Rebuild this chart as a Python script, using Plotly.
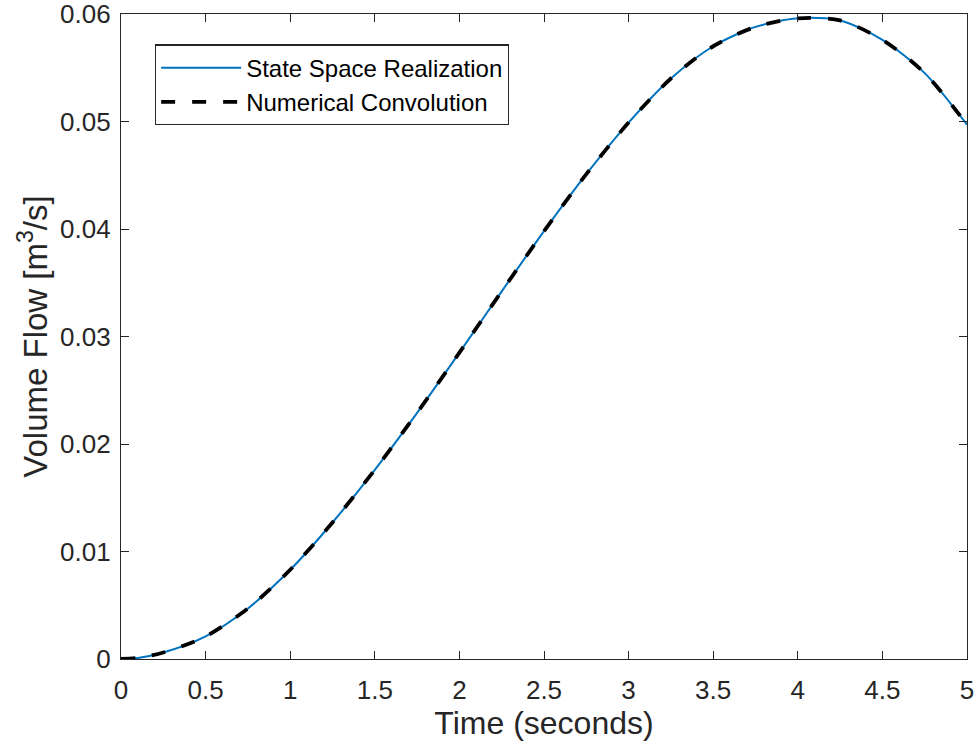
import plotly.graph_objects as go

time_s = [0, 0.1, 0.25, 0.5, 0.75, 1.0, 1.25, 1.5, 1.75, 2.0, 2.25, 2.5, 2.75,
          3.0, 3.25, 3.5, 3.75, 4.0, 4.25, 4.5, 4.75, 5.0]
flow_ss = [0, 0.0001, 0.0006, 0.0021, 0.0047, 0.0083, 0.0127, 0.0176, 0.0229,
           0.0285, 0.0342, 0.0398, 0.0451, 0.0499, 0.0540, 0.0570, 0.0588,
           0.0596, 0.0594, 0.0576, 0.0545, 0.0497]
flow_conv = [0, 0.0001, 0.0006, 0.0021, 0.0047, 0.0083, 0.0127, 0.0176, 0.0229,
             0.0285, 0.0342, 0.0398, 0.0451, 0.0499, 0.0540, 0.0570, 0.0588,
             0.0596, 0.0594, 0.0576, 0.0545, 0.0497]

x_ticks = [0, 0.5, 1, 1.5, 2, 2.5, 3, 3.5, 4, 4.5, 5]
x_tick_labels = ["0", "0.5", "1", "1.5", "2", "2.5", "3", "3.5", "4", "4.5", "5"]
y_ticks = [0, 0.01, 0.02, 0.03, 0.04, 0.05, 0.06]
y_tick_labels = ["0", "0.01", "0.02", "0.03", "0.04", "0.05", "0.06"]

FONT = "Liberation Sans, Arial, sans-serif"
AX = "#262626"

fig = go.Figure()
fig.add_trace(go.Scatter(
    x=time_s, y=flow_ss, mode="lines", name="State Space Realization",
    line=dict(color="#0072BD", width=2, shape="spline", smoothing=0.8)))
fig.add_trace(go.Scatter(
    x=time_s, y=flow_conv, mode="lines", name="Numerical Convolution",
    line=dict(color="black", width=3.8, dash="14px,17px", shape="spline", smoothing=0.8)))

axis_common = dict(
    showgrid=False, zeroline=False, showline=True, linecolor=AX, linewidth=1.3,
    mirror="ticks", ticks="inside", ticklen=8, tickwidth=1.3, tickcolor=AX,
    tickfont=dict(family=FONT, size=26, color=AX), automargin=False,
    ticklabeloverflow="allow",
)

fig.update_layout(
    width=980, height=746,
    margin=dict(l=121, r=13, t=14, b=87),
    paper_bgcolor="white", plot_bgcolor="white",
    font=dict(family=FONT, color=AX),
    xaxis=dict(range=[0, 5], tickvals=x_ticks, ticktext=x_tick_labels,
               ticklabelstandoff=8,
               title=dict(text="Time (seconds)", font=dict(family=FONT, size=32, color=AX),
                          standoff=4),
               **axis_common),
    yaxis=dict(range=[0, 0.06], tickvals=y_ticks, ticktext=y_tick_labels,
               ticklabelstandoff=4,
               title=dict(text="Volume Flow [m<sup>3</sup>/s]",
                          font=dict(family=FONT, size=33, color=AX), standoff=2),
               **axis_common),
    legend=dict(x=0.04, y=0.953, xanchor="left", yanchor="top",
                bgcolor="white", bordercolor=AX, borderwidth=1.3,
                font=dict(family=FONT, size=24, color="black"),
                itemwidth=80, tracegroupgap=0),
    showlegend=True,
)

fig.write_html("out.html")
